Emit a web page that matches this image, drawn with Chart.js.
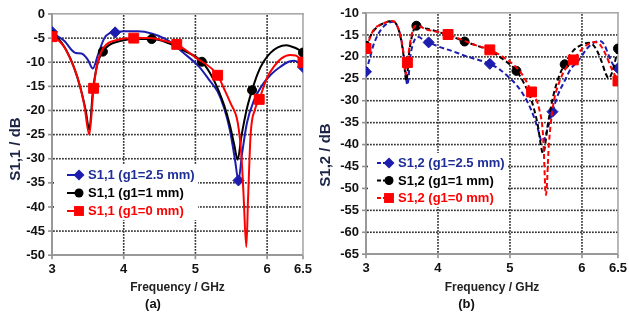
<!DOCTYPE html>
<html><head><meta charset="utf-8">
<script src="https://cdn.jsdelivr.net/npm/chart.js@4.4.0/dist/chart.umd.min.js"></script>
<style>
html,body{margin:0;padding:0;background:#fff;width:629px;height:318px;overflow:hidden}
#ca{position:absolute;left:0;top:0}
#cb{position:absolute;left:314px;top:0}
</style></head><body>
<canvas id="ca" width="314" height="318"></canvas>
<canvas id="cb" width="315" height="318"></canvas>
<script>
// ---------- DATA ----------
const seriesNamesA = ['S1,1 (g1=2.5 mm)', 'S1,1 (g1=1 mm)', 'S1,1 (g1=0 mm)'];
const seriesNamesB = ['S1,2 (g1=2.5 mm)', 'S1,2 (g1=1 mm)', 'S1,2 (g1=0 mm)'];
const xTicks = [3, 4, 5, 6, 6.5];
const xTickLabels = ['3', '4', '5', '6', '6.5'];
const yTicksA = [0, -5, -10, -15, -20, -25, -30, -35, -40, -45, -50];
const yTicksB = [-10, -15, -20, -25, -30, -35, -40, -45, -50, -55, -60, -65];
const xTitle = 'Frequency / GHz';
const yTitleA = 'S1,1 / dB';
const yTitleB = 'S1,2 / dB';
const panelA = '(a)';
const panelB = '(b)';

// (a) S1,1, g1 = 2.5 mm
const fA25 = [3.00,3.08,3.18,3.27,3.33,3.41,3.50,3.57,3.64,3.73,3.80,3.88,4.00,4.20,4.40,4.60,4.72,4.82,5.05,5.20,5.31,5.40,5.48,5.55,5.60,5.65,5.72,5.82,5.92,6.05,6.18,6.30,6.38,6.45,6.50];
const vA25 = [-3.7,-4.6,-5.7,-7.4,-8.1,-8.2,-9.5,-11.3,-8.5,-5.0,-4.0,-3.8,-3.6,-3.6,-4.1,-5.3,-6.6,-7.9,-10.9,-13.8,-16.1,-19.5,-24.0,-30.0,-34.5,-29.0,-22.5,-17.8,-15.0,-12.6,-11.0,-9.9,-9.7,-10.2,-11.0];
const mA25 = [3.00, 3.88, 5.60, 6.50];
// (a) S1,1, g1 = 1 mm
const fA10 = [3.00,3.10,3.20,3.30,3.40,3.47,3.52,3.57,3.63,3.71,3.80,3.95,4.15,4.39,4.60,4.80,5.09,5.25,5.40,5.48,5.54,5.59,5.64,5.72,5.79,5.87,5.95,6.05,6.15,6.27,6.37,6.44,6.50];
const vA10 = [-4.4,-5.3,-7.5,-10.8,-15.5,-20.0,-24.0,-16.0,-10.5,-7.8,-6.4,-5.6,-5.2,-5.2,-5.9,-7.3,-9.9,-13.5,-18.9,-23.0,-27.0,-30.2,-25.5,-19.5,-15.8,-12.3,-9.9,-8.0,-6.9,-6.5,-6.9,-7.4,-8.0];
const mA10 = [3.00, 3.71, 4.39, 5.09, 5.79, 6.50];
// (a) S1,1, g1 = 0 mm
const fA00 = [3.00,3.10,3.18,3.27,3.36,3.45,3.52,3.58,3.64,3.73,3.91,4.14,4.37,4.55,4.74,5.00,5.31,5.40,5.49,5.59,5.64,5.67,5.71,5.735,5.77,5.83,5.89,6.00,6.10,6.20,6.32,6.40,6.46,6.50];
const vA00 = [-4.7,-5.6,-7.1,-9.8,-13.3,-18.9,-25.0,-15.4,-9.9,-6.8,-5.4,-5.0,-5.0,-5.5,-6.3,-9.0,-12.7,-15.5,-18.5,-22.5,-29.0,-37.0,-48.3,-38.0,-25.0,-19.8,-17.7,-13.2,-10.8,-9.2,-8.5,-8.6,-9.3,-10.0];
const mA00 = [3.00, 3.58, 4.14, 4.74, 5.31, 5.89, 6.50];

// (b) S1,2, g1 = 2.5 mm
const fB25 = [3.00,3.05,3.10,3.17,3.25,3.32,3.38,3.44,3.49,3.53,3.575,3.62,3.67,3.73,3.80,3.87,4.00,4.20,4.40,4.60,4.72,4.85,4.98,5.10,5.20,5.30,5.38,5.45,5.52,5.59,5.67,5.75,5.85,5.94,6.07,6.16,6.25,6.31,6.37,6.44,6.50];
const vB25 = [-23.4,-20.5,-17.5,-14.8,-13.0,-12.2,-12.0,-13.2,-16.0,-20.5,-26.4,-19.5,-16.3,-15.5,-16.2,-16.7,-17.6,-18.7,-19.9,-20.9,-21.6,-22.8,-24.6,-26.6,-29.0,-32.3,-36.0,-39.5,-36.5,-32.5,-28.5,-25.8,-22.6,-21.1,-18.1,-16.8,-16.4,-17.2,-19.6,-22.0,-22.6];
const mB25 = [3.00, 3.87, 4.72, 5.59, 6.50];
// (b) S1,2, g1 = 1 mm
const fB10 = [3.00,3.05,3.10,3.17,3.25,3.32,3.37,3.43,3.48,3.52,3.56,3.60,3.65,3.70,3.85,4.00,4.20,4.37,4.55,4.72,4.90,5.09,5.20,5.30,5.38,5.46,5.53,5.60,5.68,5.76,5.88,6.00,6.10,6.18,6.26,6.33,6.37,6.42,6.46,6.50];
const vB10 = [-17.5,-15.6,-14.2,-13.0,-12.3,-11.9,-11.8,-12.8,-15.5,-19.5,-25.5,-19.0,-14.5,-12.9,-13.6,-14.3,-15.4,-16.5,-17.5,-18.6,-20.5,-23.2,-26.2,-30.0,-35.0,-42.0,-35.0,-29.0,-24.5,-21.7,-18.6,-17.2,-16.8,-17.8,-20.5,-23.8,-24.9,-23.5,-21.0,-18.1];
const mB10 = [3.00, 3.70, 4.37, 5.09, 5.76, 6.50];
// (b) S1,2, g1 = 0 mm
const fB00 = [3.00,3.05,3.10,3.17,3.25,3.32,3.37,3.43,3.48,3.52,3.555,3.575,3.61,3.66,3.70,3.85,4.00,4.14,4.30,4.50,4.72,4.90,5.10,5.20,5.30,5.40,5.46,5.50,5.54,5.60,5.68,5.78,5.88,6.00,6.10,6.17,6.25,6.33,6.42,6.50];
const vB00 = [-18.1,-15.9,-14.0,-12.9,-12.3,-11.9,-11.8,-12.8,-15.3,-19.0,-24.0,-21.3,-17.0,-13.5,-12.9,-13.8,-14.3,-14.9,-15.9,-17.2,-18.4,-20.0,-22.6,-24.8,-28.0,-31.5,-38.0,-51.5,-40.0,-31.0,-26.0,-22.5,-20.7,-18.2,-17.0,-16.6,-17.2,-19.5,-23.0,-25.5];
const mB00 = [3.00, 3.575, 4.14, 4.72, 5.30, 5.88, 6.50];

// ---------- STYLE ----------
const BLUE = '#1c1cae', BLACK = '#000000', RED = '#ff0000';
const BLUE_TXT = '#1f2e96';
const FONT = "'Liberation Sans', Arial, sans-serif";

function pts(f, v) { return f.map((x, i) => ({x: x, y: v[i]})); }

function mkDataset(label, f, v, marks, color, style, radius, dashed, order) {
  return {
    label: label,
    data: pts(f, v),
    borderColor: color,
    backgroundColor: color,
    borderWidth: 2,
    borderDash: dashed ? [5, 3] : [],
    cubicInterpolationMode: 'monotone',
    pointStyle: style,
    pointRadius: (c) => (c.raw && marks.includes(c.raw.x)) ? radius : 0,
    pointHoverRadius: 0,
    pointBorderWidth: 1,
    pointBorderColor: color,
    pointBackgroundColor: color,
    order: order,
    _legendColor: color === BLUE ? BLUE_TXT : color
  };
}

function drawMarker(ctx, style, x, y, r, color) {
  ctx.save();
  ctx.fillStyle = color; ctx.strokeStyle = color; ctx.setLineDash([]);
  ctx.beginPath();
  if (style === 'circle') ctx.arc(x, y, r, 0, Math.PI * 2);
  else if (style === 'rect') { const s = Math.SQRT1_2 * r; ctx.rect(x - s, y - s, 2 * s, 2 * s); }
  else { ctx.moveTo(x, y - r); ctx.lineTo(x + r, y); ctx.lineTo(x, y + r); ctx.lineTo(x - r, y); ctx.closePath(); }
  ctx.fill();
  ctx.restore();
}

const legendPlugin = {
  id: 'customLegend',
  afterDraw(chart, args, o) {
    const ctx = chart.ctx;
    ctx.save();
    ctx.fillStyle = '#ffffff';
    ctx.fillRect(o.box[0], o.box[1], o.box[2], o.box[3]);
    ctx.restore();
    chart.data.datasets.forEach((ds, i) => {
      const y = o.y0 + i * o.dy;
      ctx.save();
      ctx.strokeStyle = ds.borderColor;
      ctx.lineWidth = 2;
      ctx.setLineDash(ds.borderDash.length ? [4, 2] : []);
      ctx.beginPath(); ctx.moveTo(o.x0 - 12, y); ctx.lineTo(o.x0, y); ctx.stroke();
      ctx.restore();
      const r = ds.pointStyle === 'rect' ? 7 : (ds.pointStyle === 'circle' ? 4.5 : 5.5);
      drawMarker(ctx, ds.pointStyle, o.x0, y, r, ds.borderColor);
      ctx.save();
      ctx.font = 'bold 13px ' + FONT;
      ctx.fillStyle = ds._legendColor;
      ctx.textBaseline = 'middle';
      ctx.textAlign = 'left';
      ctx.fillText(ds.label, o.tx, y + 0.5);
      ctx.restore();
    });
  }
};

const frameYTitlePlugin = {
  id: 'frameYTitle',
  beforeDatasetsDraw(chart, args, o) {
    const {ctx, chartArea: a, scales} = chart;
    const xs = scales.x, ys = scales.y;
    const xVals = xTicks;
    const yVals = o.yTicks;
    const xLo = Math.min(...xVals), xHi = Math.max(...xVals);
    const yLo = Math.min(...yVals), yHi = Math.max(...yVals);
    const T = a.top, B = a.bottom, L = a.left, R = a.right;
    ctx.save();
    ctx.setLineDash([]);
    // dotted grid lines
    ctx.fillStyle = '#333333';
    for (const v of xVals) {
      if (v === xLo || v === xHi) continue;
      const px = xs.getPixelForValue(v);
      for (let y = T + 1; y < B - 1; y += 3) ctx.fillRect(px - 0.8, y, 1.6, 1.8);
    }
    for (const v of yVals) {
      if (v === yLo || v === yHi) continue;
      const py = ys.getPixelForValue(v);
      for (let x = L + 1; x < R - 1; x += 3) ctx.fillRect(x, py - 0.8, 1.8, 1.6);
    }
    // tick marks
    ctx.fillStyle = '#909090';
    for (const v of xVals) {
      const px = xs.getPixelForValue(v);
      ctx.fillRect(px - 0.8, B, 1.6, 4);
    }
    for (const v of yVals) {
      const py = ys.getPixelForValue(v);
      ctx.fillRect(L - 4, py - 0.8, 4, 1.6);
    }
    // top and right frame
    ctx.fillStyle = '#a8a8a8';
    ctx.fillRect(L, T - 1, R - L + 1, 1.6);
    ctx.fillRect(R - 0.8, T - 1, 1.6, B - T + 1);
    ctx.restore();
  },
  afterDraw(chart, args, o) {
    const ctx = chart.ctx;
    ctx.save();
    ctx.translate(o.x, o.y);
    ctx.rotate(-Math.PI / 2);
    ctx.font = 'bold 15px ' + FONT;
    ctx.fillStyle = '#1b2445';
    ctx.textAlign = 'center';
    ctx.textBaseline = 'middle';
    ctx.fillText(o.text, 0, 0);
    ctx.restore();
  }
};

function mkChart(id, datasets, yTicks, yTitle, panel, padRight, padTop, xH, legendOpts, yTitlePos) {
  const yMin = Math.min(...yTicks), yMax = Math.max(...yTicks);
  const xMin = Math.min(...xTicks), xMax = Math.max(...xTicks);
  return new Chart(document.getElementById(id), {
    type: 'line',
    data: {datasets: datasets},
    plugins: [frameYTitlePlugin, legendPlugin],
    options: {
      responsive: false,
      animation: false,
      events: [],
      layout: {padding: {left: 0, right: padRight, top: padTop, bottom: 0}},
      plugins: {
        legend: {display: false},
        tooltip: {enabled: false},
        title: {
          display: true, position: 'bottom', text: panel, color: '#111',
          font: {family: FONT, size: 13, weight: 'bold'},
          padding: {top: 0, bottom: 6}
        },
        customLegend: legendOpts,
        frameYTitle: {x: yTitlePos[0], y: yTitlePos[1], text: yTitle, yTicks: yTicks}
      },
      scales: {
        x: {
          type: 'linear', min: xMin, max: xMax,
          afterBuildTicks: (s) => { s.ticks = xTicks.map(v => ({value: v})); },
          afterFit: (s) => { s.height = xH; },
          ticks: {
            autoSkip: false, maxRotation: 0, padding: 2, color: '#111',
            font: {family: FONT, size: 13, weight: 'bold'},
            callback: (v) => xTickLabels[xTicks.indexOf(v)]
          },
          grid: {display: false, drawTicks: true, tickLength: 4},
          border: {display: true, color: '#999', width: 2},
          title: {
            display: true, text: xTitle, color: '#222',
            font: {family: FONT, size: 12, weight: 'bold'},
            padding: {top: 0, bottom: 2}
          }
        },
        y: {
          type: 'linear', min: yMin, max: yMax,
          afterBuildTicks: (s) => { s.ticks = yTicks.map(v => ({value: v})); },
          afterFit: (s) => { s.width = 52; },
          ticks: {
            autoSkip: false, padding: 3, color: '#111',
            font: {family: FONT, size: 13, weight: 'bold'},
            callback: (v) => String(v)
          },
          grid: {display: false, drawTicks: true, tickLength: 4},
          border: {display: true, color: '#999', width: 2}
        }
      }
    }
  });
}

const dsA = [
  mkDataset(seriesNamesA[0], fA25, vA25, mA25, BLUE, 'rectRot', 5.5, false, 3),
  mkDataset(seriesNamesA[1], fA10, vA10, mA10, BLACK, 'circle', 4.5, false, 2),
  mkDataset(seriesNamesA[2], fA00, vA00, mA00, RED, 'rect', 7, false, 1)
];
const dsB = [
  mkDataset(seriesNamesB[0], fB25, vB25, mB25, BLUE, 'rectRot', 5.5, true, 3),
  mkDataset(seriesNamesB[1], fB10, vB10, mB10, BLACK, 'circle', 4.5, true, 2),
  mkDataset(seriesNamesB[2], fB00, vB00, mB00, RED, 'rect', 7, true, 1)
];

mkChart('ca', dsA, yTicksA, yTitleA, panelA, 8, 14, 41.2, {x0: 79, y0: 175, dy: 18, tx: 88, box: [54, 164, 144, 56]}, [16, 149]);
mkChart('cb', dsB, yTicksB, yTitleB, panelB, 10, 13, 42.2, {x0: 75, y0: 163, dy: 17.5, tx: 84, box: [54, 153, 139, 54]}, [12, 155]);
</script>
</body></html>
